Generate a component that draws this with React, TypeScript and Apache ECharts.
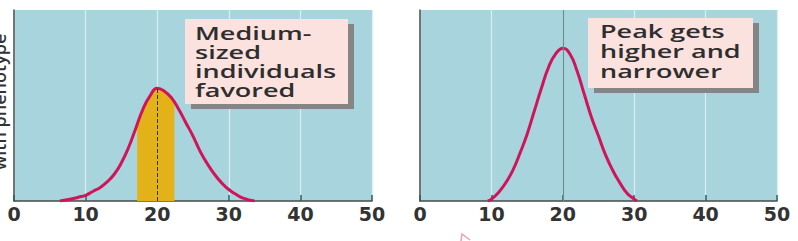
import React, { useEffect, useRef } from "react";
import * as echarts from "echarts";

const xTicks = [0, 10, 20, 30, 40, 50];
const leftX = [6.4, 8, 9, 10, 11, 12, 13, 14, 15, 16, 17, 18, 19, 20, 21, 22, 23, 24, 25, 26, 27, 28, 29, 30, 31, 32, 33.6];
const leftY = [0, 1, 2, 3, 5, 7, 10, 14, 20, 28, 38, 48, 55, 59, 57.5, 54, 48, 41, 34, 26, 19.5, 14, 9.5, 6, 3.5, 1.5, 0];
const bandX = [17.2, 18, 19, 20, 21, 22, 22.4];
const bandY = [40, 48, 55, 59, 57.5, 54, 51.5];
const rightX = [9.5, 10, 11, 12, 13, 14, 15, 16, 17, 18, 19, 20, 21, 22, 23, 24, 25, 26, 27, 28, 29, 30, 30.4];
const rightY = [0, 1, 4.5, 9.5, 16, 25, 35, 47, 59, 70, 77, 80, 77, 68, 56, 44, 34, 24, 16, 9.5, 4, 1, 0];
const meanValue = 20;
const leftNote = ["Medium-", "sized", "individuals", "favored"];
const rightNote = ["Peak gets", "higher and", "narrower"];
const yLabel = "with phenotype";

const BG = "#a8d4dd";
const CURVE = "#d0145a";
const YELLOW = "#e3b118";
const AXIS = "#4a4a4a";

const zip = (xs: number[], ys: number[]) => xs.map((x, i) => [x, ys[i]]);

export default function App() {
  const ref = useRef<HTMLDivElement>(null);
  useEffect(() => {
    document.body.style.margin = "0";
    const chart = echarts.init(ref.current!, null, { renderer: "svg" });
    const xAxisBase = (gridIndex: number) => ({
      type: "value",
      gridIndex,
      min: 0,
      max: 50,
      interval: 10,
      axisLine: { show: true, lineStyle: { color: AXIS, width: 1.5 } },
      axisTick: { show: true, inside: true, length: 6, lineStyle: { color: "#2f5f55", width: 1.5 } },
      axisLabel: {
        color: "#333",
        fontSize: 19,
        fontFamily: "DejaVu Sans",
        fontWeight: "bold",
        margin: 3,
        customValues: xTicks,
      },
      splitLine: { show: true, lineStyle: { color: "#d8eff3", width: 1.2 } },
    });
    const yAxisBase = (gridIndex: number) => ({
      type: "value",
      gridIndex,
      min: 0,
      max: 100,
      axisLine: { show: true, lineStyle: { color: AXIS, width: 1.5 } },
      axisTick: { show: false },
      axisLabel: { show: false },
      splitLine: { show: false },
    });
    const peakLeft = Math.max(...leftY);
    const noteText = (lines: string[], x: number, y: number, lh: number) => ({
      type: "text",
      x,
      y,
      scaleX: 1.5,
      style: {
        text: lines.join("\n"),
        font: "600 18px 'Open Sans'",
        fill: "#2e2e2e",
        lineHeight: lh,
        textVerticalAlign: "top",
      },
      z: 100,
    });
    chart.setOption({
      animation: false,
      grid: [
        { left: 14, right: 426, top: 10, bottom: 40, show: true, backgroundColor: BG, borderWidth: 0 },
        { left: 420, right: 21, top: 10, bottom: 40, show: true, backgroundColor: BG, borderWidth: 0 },
      ],
      xAxis: [xAxisBase(0), xAxisBase(1)],
      yAxis: [yAxisBase(0), yAxisBase(1)],
      series: [
        {
          type: "line",
          xAxisIndex: 0,
          yAxisIndex: 0,
          data: zip(bandX, bandY),
          smooth: 0.5,
          symbol: "none",
          lineStyle: { width: 0 },
          areaStyle: { color: YELLOW, opacity: 1 },
          z: 2,
          markLine: {
            silent: true,
            symbol: "none",
            label: { show: false },
            lineStyle: { color: "#333", type: "dashed", width: 1 },
            data: [[{ coord: [meanValue, 0] }, { coord: [meanValue, peakLeft] }]],
          },
        },
        {
          type: "line",
          xAxisIndex: 0,
          yAxisIndex: 0,
          data: zip(leftX, leftY),
          smooth: 0.5,
          symbol: "none",
          lineStyle: { color: CURVE, width: 3 },
          z: 3,
        },
        {
          type: "line",
          xAxisIndex: 1,
          yAxisIndex: 1,
          data: zip(rightX, rightY),
          smooth: 0.5,
          symbol: "none",
          lineStyle: { color: CURVE, width: 3 },
          z: 3,
          markLine: {
            silent: true,
            symbol: "none",
            label: { show: false },
            lineStyle: { color: "#6f8e93", type: "solid", width: 1.2 },
            data: [{ xAxis: meanValue }],
          },
        },
      ],
      graphic: [
        { type: "rect", shape: { x: 191, y: 24, width: 163, height: 85 }, style: { fill: "#858585" }, z: 90 },
        { type: "rect", shape: { x: 185, y: 19, width: 163, height: 85 }, style: { fill: "#fbe2de" }, z: 91 },
        noteText(leftNote, 195, 24, 18.7),
        { type: "rect", shape: { x: 594, y: 23, width: 165, height: 70 }, style: { fill: "#858585" }, z: 90 },
        { type: "rect", shape: { x: 588, y: 18, width: 165, height: 70 }, style: { fill: "#fbe2de" }, z: 91 },
        noteText(rightNote, 600, 21, 20),
        {
          type: "text",
          x: 8,
          y: 102,
          rotation: Math.PI / 2,
          style: {
            text: yLabel,
            font: "600 18px 'Open Sans'",
            fill: "#333",
            textAlign: "center",
            textVerticalAlign: "bottom",
          },
        },
        {
          type: "polyline",
          shape: { points: [[461, 241], [462, 234], [470, 240]] },
          style: { stroke: "#e9a0a8", lineWidth: 1.5, fill: null },
        },
      ],
    });
    return () => chart.dispose();
  }, []);
  return <div ref={ref} style={{ width: 798, height: 241 }} />;
}
